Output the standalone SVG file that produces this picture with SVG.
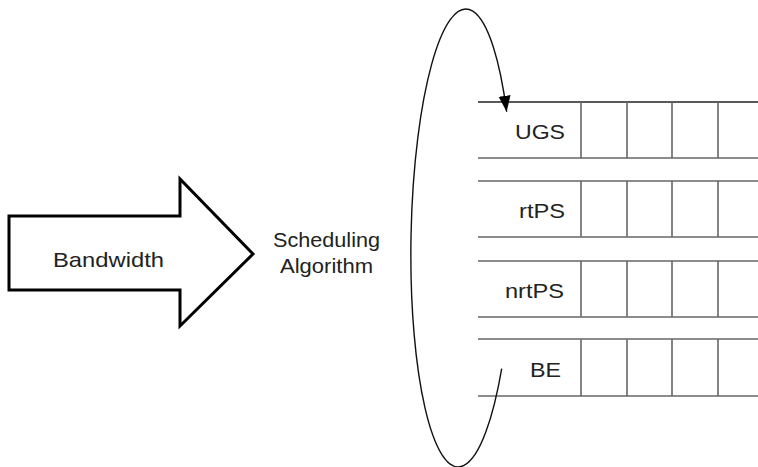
<svg xmlns="http://www.w3.org/2000/svg" width="758" height="467" viewBox="0 0 758 467">
<style>
.t{font-family:"Liberation Sans",Arial,sans-serif;font-size:21px;fill:#222}
.q{stroke:#666;stroke-width:1.6;fill:none}
</style>
<defs>
<marker id="ah" markerWidth="17" markerHeight="14" refX="16" refY="6" orient="auto" markerUnits="userSpaceOnUse">
<path d="M0,0 L16,6 L0,12 Z" fill="#000"/>
</marker>
</defs>
<rect width="758" height="467" fill="#fff"/>
<g id="bandwidth">
<path d="M9,216 H180 V179 L253,254 L180,326 V290 H9 Z" fill="#fff" stroke="#000" stroke-width="3" stroke-linejoin="miter"/>
<text class="t" x="53" y="267" textLength="111" lengthAdjust="spacingAndGlyphs">Bandwidth</text>
</g>
<g id="scheduler">
<text class="t" x="273" y="247" textLength="107" lengthAdjust="spacingAndGlyphs">Scheduling</text>
<text class="t" x="280" y="273" textLength="93" lengthAdjust="spacingAndGlyphs">Algorithm</text>
</g>
<g id="ugs">
<line class="q" x1="478" y1="102" x2="758" y2="102" style="stroke:#222;stroke-width:1.3"/>
<line class="q" x1="478" y1="158" x2="758" y2="158"/>
<path class="q" d="M581,102V158M627,102V158M672,102V158M718,102V158"/>
<text class="t" x="515" y="139" textLength="50" lengthAdjust="spacingAndGlyphs">UGS</text>
</g>
<g id="rtps">
<line class="q" x1="478" y1="181" x2="758" y2="181"/>
<line class="q" x1="478" y1="237" x2="758" y2="237"/>
<path class="q" d="M581,181V237M627,181V237M672,181V237M718,181V237"/>
<text class="t" x="519" y="218" textLength="46" lengthAdjust="spacingAndGlyphs">rtPS</text>
</g>
<g id="nrtps">
<line class="q" x1="478" y1="261" x2="758" y2="261"/>
<line class="q" x1="478" y1="317" x2="758" y2="317"/>
<path class="q" d="M581,261V317M627,261V317M672,261V317M718,261V317"/>
<text class="t" x="505" y="298" textLength="59" lengthAdjust="spacingAndGlyphs">nrtPS</text>
</g>
<g id="be">
<line class="q" x1="478" y1="339" x2="758" y2="339"/>
<line class="q" x1="478" y1="396" x2="758" y2="396"/>
<path class="q" d="M581,339V396M627,339V396M672,339V396M718,339V396"/>
<text class="t" x="530" y="377" textLength="31" lengthAdjust="spacingAndGlyphs">BE</text>
</g>
<g id="connectors">
<path d="M501.7,368.7 A51,229 1 1 1 506.65,111.76" fill="none" stroke="#111" stroke-width="1.4" marker-end="url(#ah)"/>
</g>
</svg>
